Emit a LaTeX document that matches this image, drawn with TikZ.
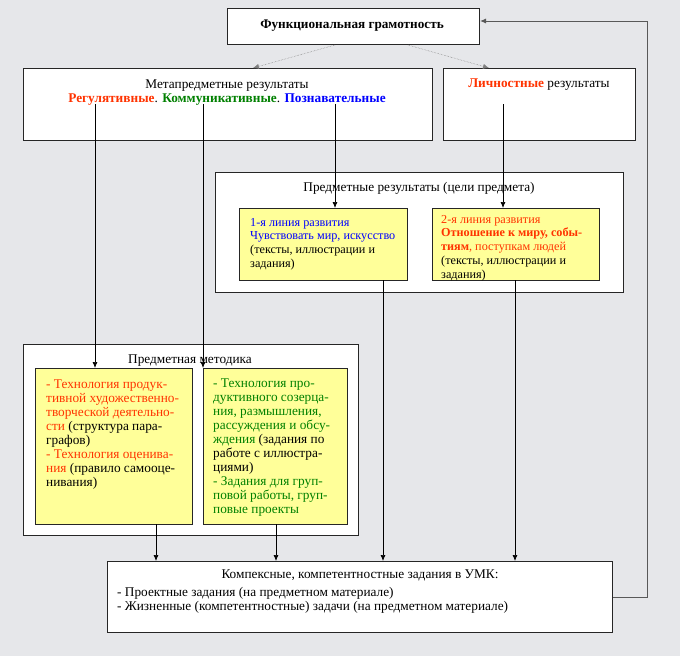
\documentclass[tikz,border=0pt]{standalone}
\usepackage{fontspec}
\setmainfont{Liberation Serif}
\usetikzlibrary{arrows.meta}

\definecolor{bg}{HTML}{E6E7EA}
\definecolor{note}{HTML}{FFFF99}
\definecolor{rred}{HTML}{FF3300}
\definecolor{rgreen}{HTML}{008000}
\definecolor{rblue}{HTML}{0000FF}

\tikzset{
  box/.style={draw=black!85, fill=white, line width=1pt, anchor=north west, inner sep=0pt},
  notebox/.style={box, fill=note},
  txt/.style={inner sep=0pt, font=\fontsize{13.3}{14}\selectfont},
  small/.style={txt, align=left, anchor=north west, font=\fontsize{12.2}{13.7}\selectfont},
  link/.style={line width=0.7pt, black, ->},
  hint/.style={line width=0.5pt, gray, densely dotted, ->}
}

\begin{document}
\begin{tikzpicture}[x=1pt, y=-1pt, >={Latex[length=6pt, width=5pt]}]
  \fill[bg] (0, 0) rectangle (680, 656);
  % boxes
  \node[box, minimum width=252, minimum height=36] (fg) at (227, 8) {};
  \node[box, minimum width=409, minimum height=72] (meta) at (23, 68) {};
  \node[box, minimum width=192, minimum height=72] (pers) at (443, 68) {};
  \node[box, minimum width=408, minimum height=120] (subj) at (215, 172) {};
  \node[notebox, minimum width=168, minimum height=72] (line1) at (239, 208) {};
  \node[notebox, minimum width=167, minimum height=72] (line2) at (432, 208) {};
  \node[box, minimum width=335, minimum height=191] (meth) at (23, 344) {};
  \node[notebox, minimum width=157, minimum height=156] (tech1) at (35, 368) {};
  \node[notebox, minimum width=144, minimum height=156] (tech2) at (203, 368) {};
  \node[box, minimum width=505, minimum height=71] (tasks) at (107, 561) {};
  % texts
  \node[txt, font=\fontsize{13.2}{14}\selectfont\bfseries] (fg-t) at (352, 25.5) {Функциональная грамотность};
  \node[txt, align=center] (meta-t) at (227, 92.5) {Метапредметные результаты\\
    \textcolor{rred}{\bfseries Регулятивные}. \textcolor{rgreen}{\bfseries Коммуникативные}. \textcolor{rblue}{\bfseries Познавательные}};
  \node[txt] (pers-t) at (539, 85) {\textcolor{rred}{\bfseries Личностные} результаты};
  \node[txt] (subj-t) at (419, 188) {Предметные результаты (цели предмета)};
  \node[small] (line1-t) at (250, 218) {\textcolor{rblue}{1-я линия развития}\\
    \textcolor{rblue}{Чувствовать мир, искусство}\\
    (тексты, иллюстрации и\\
    задания)};
  \node[small] (line2-t) at (441, 215) {\textcolor{rred}{2-я линия развития}\\
    \textcolor{rred}{\bfseries Отношение к миру, собы-}\\
    \textcolor{rred}{\textbf{тиям}, поступкам людей}\\
    (тексты, иллюстрации и\\
    задания)};
  \node[txt] (meth-t) at (190, 361) {Предметная методика};
  \node[txt, align=left, anchor=north west] (tech1-t) at (46, 380) {\textcolor{rred}{- Технология продук-}\\
    \textcolor{rred}{тивной художественно-}\\
    \textcolor{rred}{творческой деятельно-}\\
    \textcolor{rred}{сти} (структура пара-\\
    графов)\\
    \textcolor{rred}{- Технология оценива-}\\
    \textcolor{rred}{ния} (правило самооце-\\
    нивания)};
  \node[txt, align=left, anchor=north west] (tech2-t) at (213, 379) {\textcolor{rgreen}{- Технология про-}\\
    \textcolor{rgreen}{дуктивного созерца-}\\
    \textcolor{rgreen}{ния, размышления,}\\
    \textcolor{rgreen}{рассуждения и обсу-}\\
    \textcolor{rgreen}{ждения} (задания по\\
    работе с иллюстра-\\
    циями)\\
    \textcolor{rgreen}{- Задания для груп-}\\
    \textcolor{rgreen}{повой работы, груп-}\\
    \textcolor{rgreen}{повые проекты}};
  \node[txt] (tasks-t) at (360, 575) {Компексные, компетентностные задания в УМК:};
  \node[txt, align=left, anchor=north west, font=\fontsize{13.3}{14.5}\selectfont] (tasks-l) at (117, 587) {- Проектные задания (на предметном материале)\\
    - Жизненные (компетентностные) задачи (на предметном материале)};
  % connectors
  \coordinate (reg) at (95, 104);
  \coordinate (com) at (203, 104);
  \coordinate (cog) at (335, 104);
  \coordinate (prs) at (503, 104);
  \coordinate (l1out) at (383, 280);
  \coordinate (l2out) at (515, 280);
  \coordinate (t1out) at (156, 524);
  \coordinate (t2out) at (276, 524);
  \coordinate (back) at (647, 21);
  \draw[hint] ([xshift=108pt]fg.south west) -- ([xshift=230pt]meta.north west);
  \draw[hint] ([xshift=181pt]fg.south west) -- ([xshift=46pt]pers.north west);
  \draw[link] (reg) -- (reg |- tech1.north);
  \draw[link] (com) -- (com |- tech2.north);
  \draw[link] (cog) -- (cog |- line1.north);
  \draw[link] (prs) -- (prs |- line2.north);
  \draw[link] (l1out) -- (l1out |- tasks.north);
  \draw[link] (l2out) -- (l2out |- tasks.north);
  \draw[link] (t1out) -- (t1out |- tasks.north);
  \draw[link] (t2out) -- (t2out |- tasks.north);
  \draw[link, draw=black!65, line width=1pt] (tasks.east) -| (back) -- (back -| fg.east);
\end{tikzpicture}
\end{document}
